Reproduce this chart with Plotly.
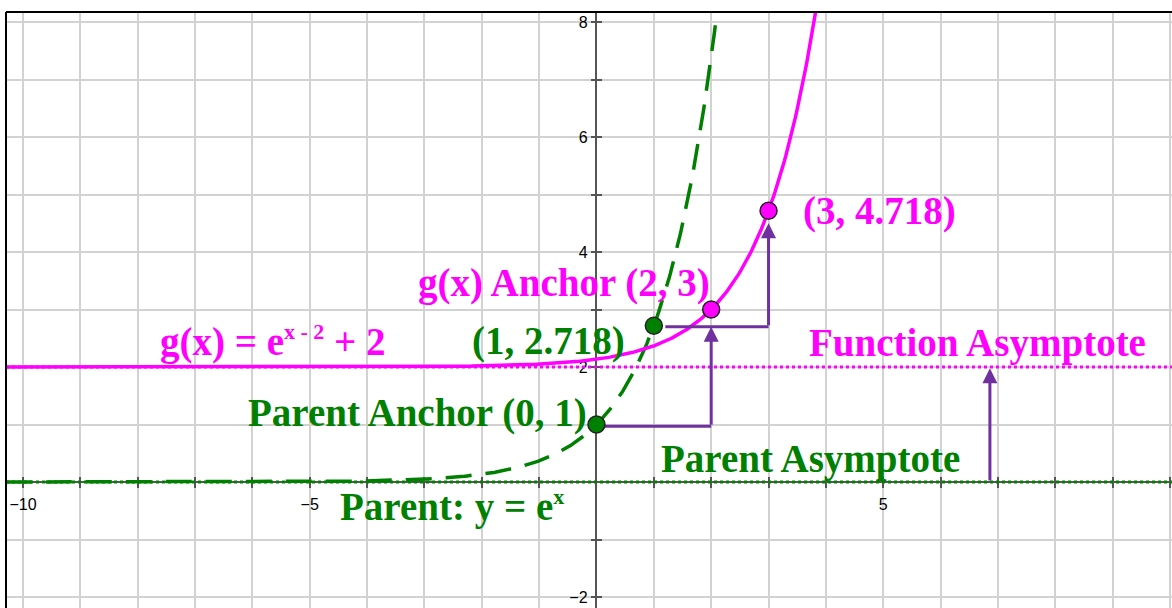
import numpy as np
import plotly.graph_objects as go

# ---- data ----
x_ticks = list(range(-10, 11))
x_tick_labels = ["\u221210" if v == -10 else "\u22125" if v == -5 else "5" if v == 5 else "10" if v == 10 else "" for v in x_ticks]
y_ticks = list(range(-2, 9))
y_tick_labels = ["\u22122" if v == -2 else str(v) if v in (2, 4, 6, 8) else "" for v in y_ticks]

parent_x = np.linspace(-10.3, 2.075, 600)
parent_y = np.exp(parent_x)
g_x = np.linspace(-10.3, 3.82, 600)
g_y = np.exp(g_x - 2) + 2

parent_asym_y = 0
func_asym_y = 2

parent_pts_x = [0, 1]
parent_pts_y = [1, 2.718]
g_pts_x = [2, 3]
g_pts_y = [3, 4.718]

# translation guides (purple)
guide1_x = [0, 2]
guide1_y = [0.97, 0.97]
guide1_tip = (2, 2.70)
guide2_x = [1.2, 3]
guide2_y = [2.70, 2.70]
guide2_tip = (3, 4.50)
guide3_base = (6.86, 0)
guide3_tip = (6.86, 1.98)

X_RANGE = [-10.296, 10.035]
Y_RANGE = [-2.191, 8.174]

GREEN = "#008000"
MAGENTA = "#FF00FF"
PURPLE = "#7030A0"

fig = go.Figure()

# asymptotes
fig.add_trace(go.Scatter(x=X_RANGE, y=[parent_asym_y, parent_asym_y], mode="lines",
                         line=dict(color=GREEN, width=3, dash="3px,3px"), hoverinfo="skip"))
fig.add_trace(go.Scatter(x=X_RANGE, y=[func_asym_y, func_asym_y], mode="lines",
                         line=dict(color=MAGENTA, width=3, dash="3px,3px"), hoverinfo="skip"))
# curves
fig.add_trace(go.Scatter(x=parent_x, y=parent_y, mode="lines",
                         line=dict(color=GREEN, width=3.5, dash="26px,14px"), hoverinfo="skip"))
fig.add_trace(go.Scatter(x=g_x, y=g_y, mode="lines",
                         line=dict(color=MAGENTA, width=3.5), hoverinfo="skip"))
# purple horizontal guides
fig.add_trace(go.Scatter(x=guide1_x, y=guide1_y, mode="lines",
                         line=dict(color=PURPLE, width=3), hoverinfo="skip"))
fig.add_trace(go.Scatter(x=guide2_x, y=guide2_y, mode="lines",
                         line=dict(color=PURPLE, width=3), hoverinfo="skip"))
# points
fig.add_trace(go.Scatter(x=parent_pts_x, y=parent_pts_y, mode="markers",
                         marker=dict(color=GREEN, size=17, line=dict(color="#222222", width=1.5)),
                         hoverinfo="skip"))
fig.add_trace(go.Scatter(x=g_pts_x, y=g_pts_y, mode="markers",
                         marker=dict(color=MAGENTA, size=17, line=dict(color="#222222", width=1.5)),
                         hoverinfo="skip"))
# empty trace so the overlay axes (inner tick halves) get drawn
fig.add_trace(go.Scatter(x=[], y=[], xaxis="x2", yaxis="y2", hoverinfo="skip"))

# arrows
def arrow(tail, tip):
    fig.add_annotation(x=tip[0], y=tip[1], ax=tail[0], ay=tail[1], xref="x", yref="y",
                       axref="x", ayref="y", text="", showarrow=True, arrowhead=2,
                       arrowsize=1, arrowwidth=3, arrowcolor=PURPLE, standoff=0, startstandoff=0)

arrow((guide1_x[1], guide1_y[1]), guide1_tip)
arrow((guide2_x[1], guide2_y[1]), guide2_tip)
arrow(guide3_base, guide3_tip)

# labels
FONT = "Liberation Serif"
def label(x, y, text, color):
    fig.add_annotation(x=x, y=y, xref="x", yref="y", text="<b>" + text + "</b>", showarrow=False,
                       xanchor="left", yanchor="middle", borderpad=0,
                       font=dict(family=FONT, size=39, color=color))

SUP = "<sup><span style='font-size:22px'>{}</span></sup>"
label(-7.62, 2.45, "g(x) = e" + SUP.format("x - 2") + " + 2", MAGENTA)
label(-3.13, 3.46, "g(x) Anchor (2, 3)", MAGENTA)
label(3.59, 4.71, "(3, 4.718)", MAGENTA)
label(3.69, 2.41, "Function Asymptote", MAGENTA)
label(-2.18, 2.45, "(1, 2.718)", GREEN)
label(-6.09, 1.20, "Parent Anchor (0, 1)", GREEN)
label(1.11, 0.40, "Parent Asymptote", GREEN)
label(-4.49, -0.43, "Parent: y = e" + SUP.format("x"), GREEN)

# frame (left and top)
fig.add_shape(type="line", xref="paper", yref="paper", x0=0, x1=0, y0=0, y1=1,
              line=dict(color="black", width=2))
fig.add_shape(type="line", xref="paper", yref="paper", x0=0, x1=1, y0=1, y1=1,
              line=dict(color="black", width=2))

xpos = (0 - Y_RANGE[0]) / (Y_RANGE[1] - Y_RANGE[0])
ypos = (0 - X_RANGE[0]) / (X_RANGE[1] - X_RANGE[0])

TICKFONT = dict(family="Liberation Sans", size=16, color="black")
common = dict(showgrid=True, gridcolor="#d2d2d2", gridwidth=1.5, zeroline=False,
              showline=True, linecolor="#555555", linewidth=1.5,
              ticks="outside", ticklen=5, tickcolor="#555555", tickwidth=1.5,
              anchor="free", automargin=False, layer="below traces", tickfont=TICKFONT)

fig.update_layout(
    width=1172, height=608,
    margin=dict(l=6, r=0, t=12, b=0, pad=0, autoexpand=False),
    paper_bgcolor="white", plot_bgcolor="white",
    showlegend=False,
    xaxis=dict(range=X_RANGE, tickmode="array", tickvals=x_ticks, ticktext=x_tick_labels,
               position=xpos, ticklabelstandoff=3, **common),
    yaxis=dict(range=Y_RANGE, tickmode="array", tickvals=y_ticks, ticktext=y_tick_labels,
               position=ypos, **common),
    # inner halves of the crossing tick marks
    xaxis2=dict(range=X_RANGE, overlaying="x", anchor="free", position=xpos, tickmode="array",
                tickvals=x_ticks, showticklabels=False, ticks="inside", ticklen=5,
                tickcolor="#555555", tickwidth=1.5, showgrid=False, zeroline=False,
                showline=False, automargin=False, layer="below traces"),
    yaxis2=dict(range=Y_RANGE, overlaying="y", anchor="free", position=ypos, tickmode="array",
                tickvals=y_ticks, showticklabels=False, ticks="inside", ticklen=5,
                tickcolor="#555555", tickwidth=1.5, showgrid=False, zeroline=False,
                showline=False, automargin=False, layer="below traces"),
)

fig.write_html("out.html", config={"displayModeBar": False},
               post_script="document.body.style.margin='0';document.body.style.overflow='hidden';")
